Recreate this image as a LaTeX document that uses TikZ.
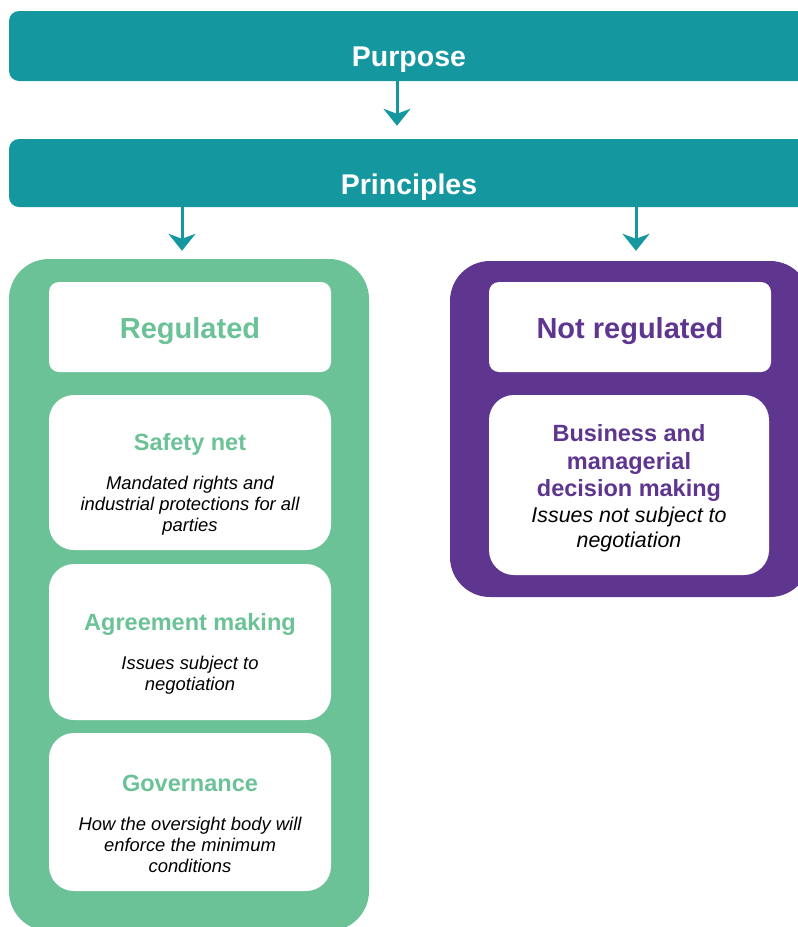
\documentclass[tikz,border=0pt]{standalone}
\usepackage{fontspec}
\setmainfont{Liberation Sans}
\usetikzlibrary{arrows.meta}
\usetikzlibrary{calc}
\definecolor{barteal}{RGB}{21,151,160}
\definecolor{reggreen}{RGB}{108,194,151}
\definecolor{notpurple}{RGB}{94,53,143}
\tikzset{
  bar/.style={fill=barteal, rounded corners=10pt, minimum width=802pt, inner sep=0pt},
  bartext/.style={text=white, font=\fontsize{28.5}{34}\selectfont\bfseries},
  group/.style={rounded corners=40pt, minimum width=360pt, inner sep=0pt},
  headbox/.style={fill=white, rounded corners=10pt, minimum width=282pt, minimum height=90pt, inner sep=0pt},
  headtext/.style={font=\fontsize{29}{34}\selectfont\bfseries},
  itembox/.style={fill=white, rounded corners=25pt, minimum width=282pt, inner sep=0pt},
  itemtitle/.style={font=\fontsize{23.5}{27.5}\selectfont\bfseries, align=center},
  itemtext/.style={font=\fontsize{18.4}{21}\selectfont\itshape, align=center},
  arr/.style={barteal, line width=3pt, -{Stealth[length=17pt,width=27pt,inset=5pt]}}
}
\begin{document}
\begin{tikzpicture}[x=1pt,y=-1pt]
        \useasboundingbox (0,0) rectangle (798,927);
        % top bars
        \node[bar, minimum height=70pt] (purpose) at (410,46) {};
        \node[bartext] (purposeT) at (409,60) {Purpose};
        \node[bar, minimum height=68pt] (principles) at (410,173) {};
        \node[bartext] (principlesT) at (409,187) {Principles};
        \draw[arr, shorten >=13pt] ([xshift=-13pt]purpose.south) -- ([xshift=-13pt]principles.north);
        % the two groups
        \node[group, fill=reggreen, minimum height=672pt] (reg) at (189,595) {};
        \node[group, fill=notpurple, minimum height=336pt] (notreg) at (630,429) {};
        \draw[arr, shorten >=8pt] ([xshift=-7pt]reg.north |- principles.south) -- ([xshift=-7pt]reg.north);
        \draw[arr, shorten >=10pt] ([xshift=6pt]notreg.north |- principles.south) -- ([xshift=6pt]notreg.north);
        % regulated
        \node[headbox] (regbox) at (190,327) {};
        \node[headtext, text=reggreen] (regT) at (190,331) {Regulated};
        \node[itembox, minimum height=155pt] (safety) at (190,472.5) {};
        \node[itemtitle, text=reggreen] (safetyT) at (190,444) {Safety net};
        \node[itemtext] (safetyB) at (190,506) {Mandated rights and\\industrial protections for all\\parties};
        \node[itembox, minimum height=156pt] (agree) at (190,642) {};
        \node[itemtitle, text=reggreen] (agreeT) at (190,624) {Agreement making};
        \node[itemtext] (agreeB) at (190,675.5) {Issues subject to\\negotiation};
        \node[itembox, minimum height=158pt] (gov) at (190,812) {};
        \node[itemtitle, text=reggreen] (govT) at (190,783) {Governance};
        \node[itemtext] (govB) at (190,844.5) {How the oversight body will\\enforce the minimum\\conditions};
        % not regulated
        \node[headbox] (notregbox) at (630,327) {};
        \node[headtext, text=notpurple] (notregT) at (630,331) {Not regulated};
        \node[itembox, minimum height=180pt, minimum width=280pt] (business) at (629,485) {};
        \node[itemtitle, text=notpurple] (businessT) at (629,463) {Business and\\managerial\\decision making};
        \node[itemtext, font=\fontsize{21.4}{25}\selectfont\itshape] (businessB) at (629,529) {Issues not subject to\\negotiation};
\end{tikzpicture}
\end{document}
